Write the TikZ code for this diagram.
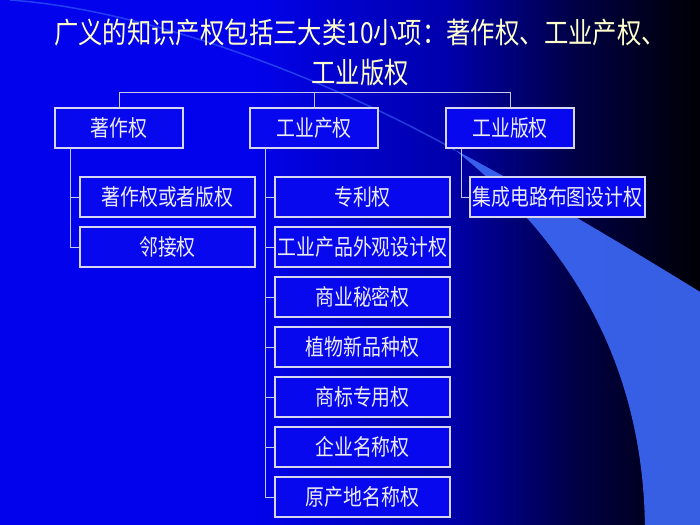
\documentclass[tikz,border=0pt]{standalone}
\usepackage{fontspec}
\newfontfamily\cjk[FakeStretch=0.84]{Noto Sans CJK SC}
\usetikzlibrary{positioning}

\definecolor{bgA}{RGB}{2,2,236}
\definecolor{bgB}{RGB}{0,0,170}
\definecolor{bgC}{RGB}{0,0,72}
\definecolor{swoosh}{RGB}{60,104,246}
\definecolor{boxfill}{RGB}{8,8,238}
\definecolor{boxline}{RGB}{214,214,240}
\definecolor{boxtext}{RGB}{236,236,248}
\definecolor{linkcol}{RGB}{200,200,232}
\definecolor{titlecol}{RGB}{255,255,204}

\begin{document}
\begin{tikzpicture} [
   x=1pt, y=-1pt,          % slide pixel grid, y going down
   node distance=50pt,     % spacing of the sub-item boxes
   ]
% -------------------------------------------------
\tikzset{
  base/.style={draw=boxline, line width=1.2pt, fill=boxfill, text=boxtext, inner sep=0pt,
               align=center, font=\cjk\fontsize{22.5}{26}\selectfont},
  head/.style={base, minimum width=128pt, minimum height=40pt},
  leaf/.style={base, on grid, minimum width=175pt, minimum height=40pt},
  link/.style={draw=linkcol, line width=1pt},
  title/.style={text=titlecol, align=center, font=\cjk\fontsize{29}{40}\selectfont}
}

    \useasboundingbox (0,0) rectangle (700,524);

    \fill[bgA] (-10,-10) rectangle (710,534);                                  % background, left part
    \shade[left color=bgA, right color=bgB] (250,-10) rectangle (451,534);
    \shade[left color=bgB, right color=bgC] (450,-10) rectangle (571,534);
    \shade[left color=bgC, right color=black] (570,-10) rectangle (710,534);   % background, right part

    \draw[swoosh, opacity=0.6, line width=1.5pt] (10,0) .. controls (150,10) and (330,80) .. (455,150);   % thin arc
    \fill[swoosh, opacity=0.92] (455,150) .. controls (550,200) and (640,255) .. (710,298)
        -- (710,534) -- (645,534) .. controls (645,410) and (605,270) .. (455,150);                   % swoosh band

    \node [title] (ttl) at (360,52) {广义的知识产权包括三大类10小项：著作权、工业产权、\\工业版权};

    \node [head] (zzq) at (119,128) {著作权};
    \node [head] (gyq) at (314,128) {工业产权};
    \node [head] (gbq) at (510,128) {工业版权};

    \node [leaf] (zz1) at (167.5,197) {著作权或者版权};
    \node [leaf, below=of zz1] (zz2) {邻接权};

    \node [leaf] (gy1) at (362.5,197) {专利权};
    \node [leaf, below=of gy1] (gy2) {工业产品外观设计权};
    \node [leaf, below=of gy2] (gy3) {商业秘密权};
    \node [leaf, below=of gy3] (gy4) {植物新品种权};
    \node [leaf, below=of gy4] (gy5) {商标专用权};
    \node [leaf, below=of gy5] (gy6) {企业名称权};
    \node [leaf, below=of gy6] (gy7) {原产地名称权};

    \node [leaf] (gb1) at (557.5,197) {集成电路布图设计权};

    \coordinate [above=15pt of gyq.north] (top);
    \path [link] (zzq.north) |- (top) -| (gbq.north);
    \path [link] (top) -- (gyq.north);

    \foreach \n in {1,2}
        \path [link] ([xshift=16pt]zzq.south west) |- (zz\n.west);
    \foreach \n in {1,...,7}
        \path [link] ([xshift=16pt]gyq.south west) |- (gy\n.west);
    \path [link] ([xshift=16pt]gbq.south west) |- (gb1.west);

\end{tikzpicture}
\end{document}
